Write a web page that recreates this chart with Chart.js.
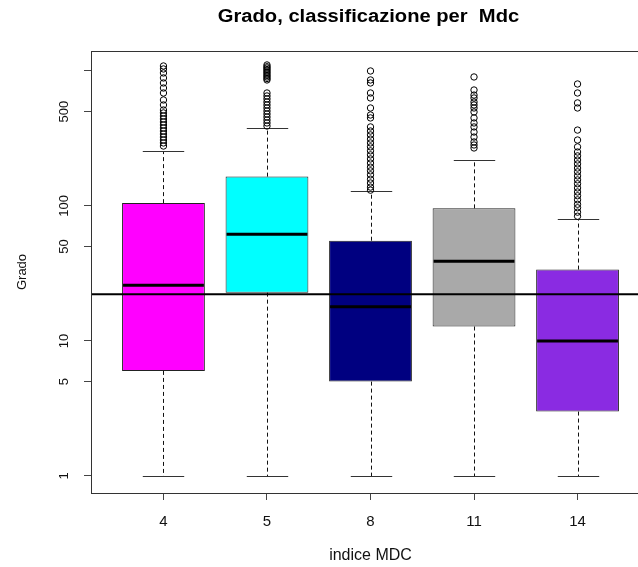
<!DOCTYPE html>
<html><head><meta charset="utf-8">
<script src="https://cdn.jsdelivr.net/npm/chart.js@4.4.1/dist/chart.umd.min.js"></script>
<style>
html,body{margin:0;padding:0;overflow:hidden;background:#fff;width:638px;height:567px}
#wrap{position:absolute;left:0;top:0;width:680px;height:567px}
</style></head><body><div id="wrap"><canvas id="c" width="680" height="567"></canvas></div>
<script>
const categories = ['4', '5', '8', '11', '14'];
const boxColors = ['#FF00FF', '#00FFFF', '#000080', '#A9A9A9', '#8A2BE2'];
const whiskerLow = [1, 1, 1, 1, 1];
const q1 = [6, 22.8, 5, 12.8, 3];
const medians = [25.9, 61.7, 17.9, 38.9, 10];
const q3 = [105, 165, 55.3, 96, 33.8];
const whiskerHigh = [257, 380, 130, 219, 79.7];
const outliers4 = [1089, 1035, 967, 888, 815, 748, 687, 610, 560, 514, 489, 464, 441, 419, 398, 378, 359, 341, 324, 308, 293, 278];
const outliers5 = [1108, 1075, 1052, 1025, 1000, 975, 950, 925, 903, 880, 858, 687, 653, 621, 589, 560, 532, 505, 480, 456, 433, 412, 391];
const outliers8 = [1000, 858, 815, 687, 631, 532, 472, 449, 385, 359, 336, 313, 293, 274, 256, 239, 223, 208, 194, 182, 170, 158, 148, 138, 131];
const outliers11 = [903, 723, 663, 631, 589, 560, 532, 497, 449, 412, 385, 353, 324, 298, 283, 269];
const outliers14 = [801, 687, 580, 532, 365, 308, 274, 251, 235, 219, 205, 191, 179, 167, 156, 146, 136, 127, 119, 111, 103, 97, 90, 84];
const refLine = 22.2;
const yTickValues = [1, 5, 10, 50, 100, 500, 1000];
const yTickLabels = ['1', '5', '10', '50', '100', '500', ''];
const titleText = 'Grado, classificazione per  Mdc';
const xTitle = 'indice MDC';
const yTitle = 'Grado';

const FONT = '"Liberation Sans", Arial, sans-serif';
const allOutliers = [outliers4, outliers5, outliers8, outliers11, outliers14];

const boxData = categories.map((c, i) => ({x: i + 1, y: [q1[i], q3[i]]}));
const outlierData = [];
allOutliers.forEach((arr, i) => arr.forEach(v => outlierData.push({x: i + 1, y: v})));

function line(ctx, x1, y1, x2, y2) { ctx.beginPath(); ctx.moveTo(x1, y1); ctx.lineTo(x2, y2); ctx.stroke(); }

const decor = {
  id: 'decor',
  beforeDatasetsDraw(chart) {
    const {ctx, scales: {x, y}} = chart;
    const meta = chart.getDatasetMeta(0);
    ctx.save();
    ctx.lineWidth = 1;
    categories.forEach((c, i) => {
      const cx = Math.round(x.getPixelForValue(i + 1)) + 0.5;
      const hw = meta.data[i].width / 2;
      const yH = Math.round(y.getPixelForValue(whiskerHigh[i])) + 0.5;
      const yL = Math.round(y.getPixelForValue(whiskerLow[i])) + 0.5;
      ctx.strokeStyle = '#111';
      ctx.setLineDash([4, 3]);
      line(ctx, cx, y.getPixelForValue(q3[i]), cx, yH);
      line(ctx, cx, y.getPixelForValue(q1[i]), cx, yL);
      ctx.setLineDash([]);
      ctx.strokeStyle = '#333';
      line(ctx, cx - hw / 2, yH, cx + hw / 2, yH);
      line(ctx, cx - hw / 2, yL, cx + hw / 2, yL);
    });
    ctx.restore();
  },
  afterDatasetsDraw(chart) {
    const {ctx, chartArea: a, scales: {x, y}} = chart;
    const meta = chart.getDatasetMeta(0);
    ctx.save();
    ctx.strokeStyle = '#000';
    ctx.lineWidth = 3;
    categories.forEach((c, i) => {
      const cx = x.getPixelForValue(i + 1);
      const hw = meta.data[i].width / 2;
      const ym = y.getPixelForValue(medians[i]);
      line(ctx, cx - hw + 1, ym, cx + hw - 1, ym);
    });
    ctx.lineWidth = 2;
    const yr = y.getPixelForValue(refLine);
    line(ctx, a.left, yr, a.right, yr);
    ctx.lineWidth = 1;
    ctx.strokeStyle = '#333';
    ctx.strokeRect(Math.round(a.left) + 0.5, Math.round(a.top) + 0.5, Math.round(a.right - a.left), Math.round(a.bottom - a.top));
    ctx.restore();
  },
  afterDraw(chart) {
    const {ctx, chartArea: a, scales: {y}} = chart;
    ctx.save();
    ctx.fillStyle = '#111';
    ctx.font = '13px ' + FONT;
    ctx.textAlign = 'center';
    ctx.textBaseline = 'alphabetic';
    yTickValues.forEach((v, i) => {
      if (!yTickLabels[i]) return;
      ctx.save();
      ctx.translate(a.left - 23, y.getPixelForValue(v));
      ctx.rotate(-Math.PI / 2);
      ctx.fillText(yTickLabels[i], 0, 0);
      ctx.restore();
    });
    ctx.fillStyle = '#000';
    ctx.font = 'bold 18px ' + FONT;
    ctx.textBaseline = 'middle';
    ctx.translate((a.left + a.right) / 2 - 2, 17);
    ctx.scale(1.12, 1);
    ctx.fillText(titleText, 0, 0);
    ctx.restore();
  }
};

new Chart(document.getElementById('c'), {
  type: 'bar',
  data: {
    datasets: [
      {
        type: 'bar', data: boxData,
        backgroundColor: boxColors, borderColor: '#222', borderWidth: 1, borderSkipped: false,
        barPercentage: 0.8, categoryPercentage: 1.0, order: 2
      },
      {
        type: 'scatter', data: outlierData,
        pointStyle: 'circle', pointRadius: 3.2, pointBorderWidth: 1,
        pointBorderColor: '#000', pointBackgroundColor: 'rgba(0,0,0,0)', showLine: false, order: 1
      }
    ]
  },
  plugins: [decor],
  options: {
    responsive: false,
    animation: false,
    devicePixelRatio: 1,
    layout: {padding: {left: 0, right: 30, top: 51, bottom: 0}},
    plugins: {legend: {display: false}, tooltip: {enabled: false}, title: {display: false}},
    scales: {
      x: {
        type: 'linear', min: 0.3, max: 5.7, offset: false, bounds: 'data',
        afterBuildTicks: s => { s.ticks = categories.map((c, i) => ({value: i + 1})); },
        afterFit: s => { s.height = 74; },
        ticks: {callback: (v) => categories[v - 1] ?? '', font: {size: 15, family: FONT}, color: '#111', padding: 13, maxRotation: 0, autoSkip: false},
        grid: {drawOnChartArea: false, drawTicks: true, tickLength: 7, color: '#444', offset: false},
        border: {display: false},
        title: {display: true, text: xTitle, font: {size: 16, family: FONT}, color: '#111', padding: {top: 0, bottom: 2}}
      },
      y: {
        type: 'logarithmic', min: 0.748, max: 1406, bounds: 'data',
        afterBuildTicks: s => { s.ticks = yTickValues.map(v => ({value: v})); },
        afterFit: s => { s.width = 91; },
        ticks: {display: false},
        grid: {drawOnChartArea: false, drawTicks: true, tickLength: 7, color: '#444'},
        border: {display: false},
        title: {display: true, text: yTitle, font: {size: 13, family: FONT}, color: '#111', padding: {top: 15, bottom: 0}}
      }
    }
  }
});
</script></body></html>
